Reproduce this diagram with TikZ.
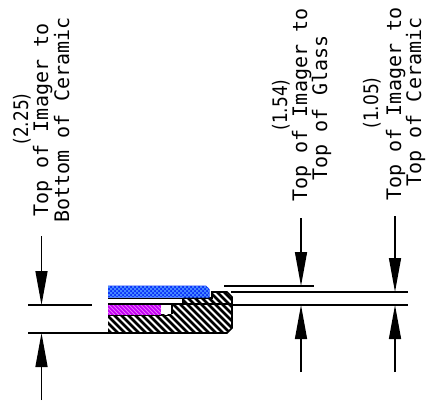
\documentclass[tikz,border=0pt]{standalone}
\usepackage{fontspec}
\setmainfont{DejaVu Sans Mono}
\newfontfamily\valuefont[FakeStretch=0.85]{DejaVu Sans}
\usetikzlibrary{arrows.meta}
\definecolor{glassBlue}{RGB}{10,50,250}
\definecolor{glassLight}{RGB}{70,135,255}
\definecolor{imagerPurple}{RGB}{195,0,245}
\definecolor{imagerLight}{RGB}{235,130,250}
\tikzset{
  dimline/.style={line width=1.4pt},
  dimarrow/.style={line width=1.4pt, -{Triangle[length=34pt,width=12pt]}},
  partline/.style={line width=1.6pt},
  caption/.style={rotate=90, anchor=base, inner sep=0pt, font=\fontsize{20}{20}\selectfont},
  value/.style={rotate=90, anchor=base, inner sep=0pt, font=\valuefont\fontsize{20}{20}\selectfont}
}
\begin{document}
\begin{tikzpicture}[x=1pt,y=-1pt]
  \useasboundingbox (0,0) rectangle (427,400);

  % Ceramic body
  \begin{scope}
    \clip (108,333) -- (108,314) -- (172,314) -- (172,305) -- (183,305) -- (183,298) -- (212,298)
      -- (212,292) -- (227,292) -- (232,297) -- (232,328) -- (227,333) -- cycle;
    \foreach \i in {-42,-35,...,320}
      \draw[line width=2.5pt] (\i+100,280) -- (\i+170,350);
  \end{scope}
  \draw[partline] (108,333) -- (227,333) -- (232,328) -- (232,297) -- (227,292) -- (212,292) -- (212,298) -- (183,298);
  \draw[partline] (183,298) -- (183,305);
  \draw[partline] (172,305) -- (172,314);

  % Glass
  \begin{scope}
    \clip (108,285.5) -- (206,285.5) -- (209.5,289) -- (209.5,297.5) -- (108,297.5) -- cycle;
    \fill[glassBlue] (108,285) rectangle (210,298);
    \foreach \i in {0,4,...,100}
      \foreach \j in {286,290,294}
        \fill[glassLight] (\i+108,\j) rectangle +(2,2) (\i+110,\j+2) rectangle +(2,2);
  \end{scope}
  \draw[partline] (108,298.5) -- (183,298.5);

  % Imager
  \fill[imagerPurple] (108,304) rectangle (161,315);
  \begin{scope}
    \clip (108,304) rectangle (161,315);
    \foreach \i in {-16,-12,...,60}
      \draw[imagerLight, line width=0.7pt] (\i+108,300) -- (\i+128,320);
  \end{scope}
  \draw[partline] (108,304) -- (232,304);
  \draw[line width=0.8pt] (108,315) -- (172,315);

  % Extension lines
  \draw[dimline] (28,305) -- (92,305);
  \draw[dimline] (28,333) -- (108,333);
  \draw[dimline] (224,286) -- (314,286);
  \draw[dimline] (231,292) -- (408,292);
  \draw[dimline] (232,305) -- (408,305);

  % Dimension arrows
  \foreach \x/\ya/\yb/\yc in {41.5/236/305/333, 301/218/286/305, 395/216/292/305} {
    \draw[dimarrow] (\x,\ya) -- (\x,\yb);
    \draw[dimarrow] (\x,\yc+67) -- (\x,\yc);
  }

  % Labels
  \node[value] (bottomValue) at (28,119) {(2.25)};
  \node[caption] (bottomTop) at (48,120) {Top of Imager to};
  \node[caption] (bottomEnd) at (69,120) {Bottom of Ceramic};
  \node[value] (glassValue) at (287,105) {(1.54)};
  \node[caption] (glassTop) at (307,105) {Top of Imager to};
  \node[caption] (glassEnd) at (327,108) {Top of Glass};
  \node[value] (ceramicValue) at (378,103) {(1.05)};
  \node[caption] (ceramicTop) at (401,104) {Top of Imager to};
  \node[caption] (ceramicEnd) at (421,102) {Top of Ceramic};
\end{tikzpicture}
\end{document}
